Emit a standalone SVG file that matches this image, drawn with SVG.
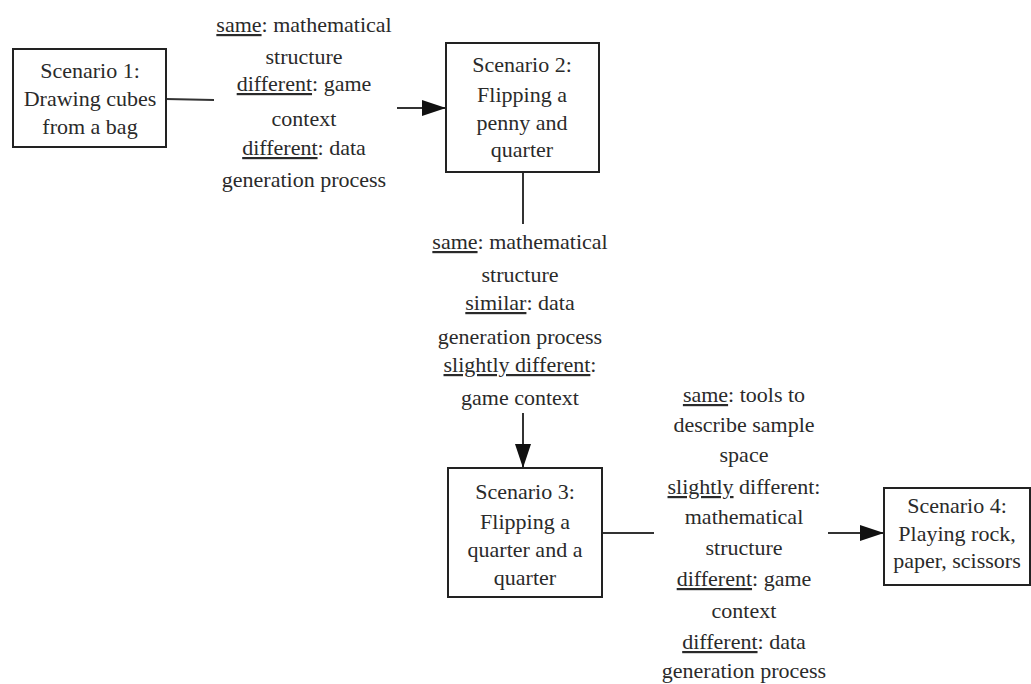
<svg xmlns="http://www.w3.org/2000/svg" width="1031" height="684" viewBox="0 0 1031 684">
<style>
text{font-family:"Liberation Serif","Times New Roman",serif;font-size:22px;fill:#2a2a2a;text-anchor:middle}
.u{text-decoration:underline}
.box{fill:#fff;stroke:#222;stroke-width:2}
.ln{stroke:#333;stroke-width:2;fill:none}
</style>
<defs>
<marker id="ahv" markerWidth="24" markerHeight="16" refX="24" refY="8" orient="auto" markerUnits="userSpaceOnUse">
<path d="M0,0 L24,8 L0,16 z" fill="#111"/>
</marker>
</defs>
<rect width="1031" height="684" fill="#fff"/>
<g id="connectors">
<line class="ln" x1="166" y1="99" x2="214" y2="100"/>
<line class="ln" x1="397" y1="108" x2="446" y2="108" marker-end="url(#ahv)"/>
<line class="ln" x1="523" y1="172" x2="523" y2="224"/>
<line class="ln" x1="523" y1="413" x2="523" y2="468" marker-end="url(#ahv)"/>
<line class="ln" x1="602" y1="533" x2="654" y2="533"/>
<line class="ln" x1="828" y1="533" x2="884" y2="533" marker-end="url(#ahv)"/>
</g>
<g id="scenario1">
<rect class="box" x="13" y="49" width="153" height="98"/>
<text x="90" y="78">Scenario 1:</text>
<text x="90" y="106">Drawing cubes</text>
<text x="90" y="134">from a bag</text>
</g>
<g id="scenario2">
<rect class="box" x="446" y="43" width="153" height="129"/>
<text x="522" y="72">Scenario 2:</text>
<text x="522" y="102">Flipping a</text>
<text x="522" y="130">penny and</text>
<text x="522" y="157">quarter</text>
</g>
<g id="scenario3">
<rect class="box" x="448" y="468" width="154" height="129"/>
<text x="525" y="499">Scenario 3:</text>
<text x="525" y="529">Flipping a</text>
<text x="525" y="557">quarter and a</text>
<text x="525" y="585">quarter</text>
</g>
<g id="scenario4">
<rect class="box" x="884" y="488" width="146" height="97"/>
<text x="957" y="513">Scenario 4:</text>
<text x="957" y="541">Playing rock,</text>
<text x="957" y="568">paper, scissors</text>
</g>
<g id="label1">
<text x="304" y="32"><tspan class="u">same</tspan>: mathematical</text>
<text x="304" y="64">structure</text>
<text x="304" y="91"><tspan class="u">different</tspan>: game</text>
<text x="304" y="126">context</text>
<text x="304" y="155"><tspan class="u">different</tspan>: data</text>
<text x="304" y="187">generation process</text>
</g>
<g id="label2">
<text x="520" y="249"><tspan class="u">same</tspan>: mathematical</text>
<text x="520" y="282">structure</text>
<text x="520" y="310"><tspan class="u">similar</tspan>: data</text>
<text x="520" y="344">generation process</text>
<text x="520" y="372"><tspan class="u">slightly different</tspan>:</text>
<text x="520" y="405">game context</text>
</g>
<g id="label3">
<text x="744" y="402"><tspan class="u">same</tspan>: tools to</text>
<text x="744" y="432">describe sample</text>
<text x="744" y="462">space</text>
<text x="744" y="494"><tspan class="u">slightly</tspan> different:</text>
<text x="744" y="524">mathematical</text>
<text x="744" y="555">structure</text>
<text x="744" y="586"><tspan class="u">different</tspan>: game</text>
<text x="744" y="618">context</text>
<text x="744" y="649"><tspan class="u">different</tspan>: data</text>
<text x="744" y="678">generation process</text>
</g>
</svg>
